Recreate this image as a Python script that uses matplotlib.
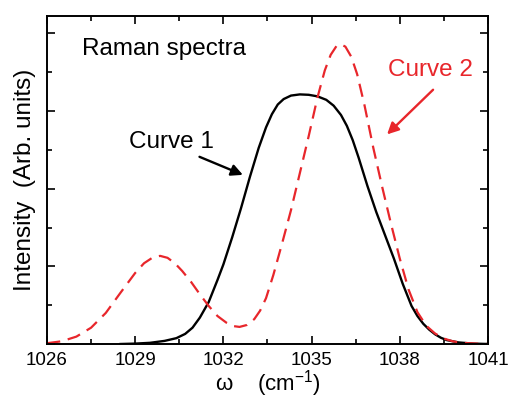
import matplotlib
matplotlib.use('Agg')
import matplotlib.pyplot as plt
from matplotlib.ticker import MultipleLocator

plt.rcParams['font.family'] = ['Liberation Sans', 'DejaVu Sans']
plt.rcParams['mathtext.fontset'] = 'custom'
plt.rcParams['mathtext.rm'] = 'Liberation Sans'
plt.rcParams['mathtext.it'] = 'Liberation Sans'

# Curve 1 (black, solid)
w1 = [1028.5, 1029.0, 1029.5, 1030.0, 1030.4, 1030.7, 1030.95, 1031.2, 1031.5,
      1031.8, 1032.0, 1032.3, 1032.6, 1032.9, 1033.2, 1033.45, 1033.65, 1033.85,
      1034.05, 1034.3, 1034.6, 1034.9, 1035.2, 1035.5, 1035.75, 1036.0, 1036.2,
      1036.4, 1036.6, 1036.9, 1037.2, 1037.5, 1037.8, 1038.1, 1038.4, 1038.6,
      1038.8, 1039.0, 1039.2, 1039.4, 1039.6, 1040.0, 1040.5, 1041.0]
i1 = [0.0, 0.01, 0.03, 0.08, 0.15, 0.26, 0.42, 0.68, 1.08,
      1.65, 2.05, 2.75, 3.50, 4.30, 5.05, 5.58, 5.92, 6.17,
      6.31, 6.40, 6.43, 6.42, 6.38, 6.29, 6.14, 5.90, 5.62,
      5.25, 4.80, 4.07, 3.40, 2.80, 2.20, 1.55, 0.98, 0.72,
      0.52, 0.37, 0.25, 0.16, 0.10, 0.04, 0.01, 0.0]

# Curve 2 (red, dashed)
w2 = [1026.0, 1026.5, 1027.0, 1027.5, 1028.0, 1028.5, 1029.0, 1029.3, 1029.6,
      1029.85, 1030.1, 1030.35, 1030.6, 1030.9, 1031.2, 1031.5, 1031.8, 1032.1,
      1032.35, 1032.55, 1032.8, 1033.05, 1033.25, 1033.45, 1033.7, 1034.0, 1034.3,
      1034.6, 1034.9, 1035.2, 1035.45, 1035.65, 1035.85, 1036.0, 1036.15, 1036.35,
      1036.55, 1036.8, 1037.1, 1037.4, 1037.7, 1038.0, 1038.3, 1038.6, 1038.9,
      1039.2, 1039.5, 1039.8, 1040.1, 1040.6, 1041.0]
i2 = [0.02, 0.07, 0.19, 0.42, 0.80, 1.32, 1.83, 2.08, 2.23,
      2.27, 2.22, 2.08, 1.88, 1.60, 1.28, 0.98, 0.72, 0.55,
      0.46, 0.44, 0.49, 0.64, 0.86, 1.18, 1.78, 2.60, 3.45,
      4.40, 5.35, 6.35, 7.05, 7.45, 7.68, 7.72, 7.66, 7.40,
      6.95, 6.15, 5.05, 4.05, 3.10, 2.20, 1.40, 0.82, 0.47,
      0.27, 0.14, 0.07, 0.03, 0.01, 0.0]

xticks = [1026, 1029, 1032, 1035, 1038, 1041]

fig = plt.figure(figsize=(5.08, 3.98), dpi=100)
ax = fig.add_axes([0.0925, 0.1357, 0.8681, 0.8241])

ax.plot(w1, i1, color='black', lw=1.7)
ax.plot(w2, i2, color='#e8262b', lw=1.6, dashes=(6, 3.5))

ax.set_xlim(1026, 1041)
ax.set_ylim(0, 8.45)
ax.set_xticks(xticks)
ax.set_xticklabels([str(t) for t in xticks])
ax.xaxis.set_minor_locator(MultipleLocator(1.5))
ax.yaxis.set_major_locator(MultipleLocator(2))
ax.yaxis.set_minor_locator(MultipleLocator(1))
ax.set_yticklabels([])
ax.tick_params(which='both', direction='in', top=True, right=True, width=1.2)
ax.tick_params(which='major', length=6, labelsize=13.5, pad=6)
ax.tick_params(which='minor', length=3.5)
for s in ax.spines.values():
    s.set_linewidth(1.4)

ax.set_ylabel('Intensity  (Arb. units)', fontsize=17.5, labelpad=2)
ax.set_xlabel(r'$\omega$    (cm$^{-1}$)', fontsize=16, labelpad=-1)

ax.text(1027.2, 7.6, 'Raman spectra', fontsize=17.5, va='center')
ax.text(1028.8, 5.2, 'Curve 1', fontsize=17.5, va='center')
ax.text(1037.6, 7.05, 'Curve 2', fontsize=17.5, va='center', color='#e8262b')

ax.annotate('', xy=(1032.75, 4.33), xytext=(1031.1, 4.85),
            arrowprops=dict(arrowstyle='-|>', color='black', lw=1.7,
                            mutation_scale=17))
ax.annotate('', xy=(1037.5, 5.35), xytext=(1039.2, 6.6),
            arrowprops=dict(arrowstyle='-|>', color='#e8262b', lw=1.7,
                            mutation_scale=17))

fig.savefig('out.png', dpi=100)
